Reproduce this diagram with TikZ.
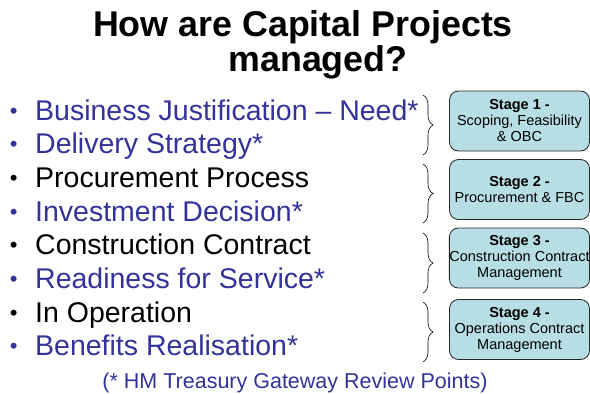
\documentclass[tikz,border=0pt]{standalone}
\usepackage{fontspec}
\setmainfont{Liberation Sans}
\usetikzlibrary{decorations.pathreplacing}
\definecolor{gwblue}{RGB}{51,51,153}
\definecolor{stagefill}{RGB}{183,222,228}
\newcommand{\blt}{\makebox[26.4pt][l]{\hspace{1pt}\raisebox{2pt}{\fontsize{22}{22}\selectfont•}}}
\begin{document}
\begin{tikzpicture}[x=1pt,y=-1pt,
  titletext/.style={font=\fontsize{35.8}{42}\selectfont\bfseries, inner sep=0, anchor=base},
  item/.style={font=\fontsize{28.5}{34}\selectfont, inner sep=0, anchor=base west},
  stagebox/.style={draw=black!85, line width=0.8pt, fill=stagefill, rounded corners=9pt,
    minimum width=140pt, minimum height=60pt, inner sep=0, align=center,
    font=\fontsize{14.5}{16}\selectfont},
  bracepath/.style={decorate, decoration={brace, amplitude=10pt, aspect=0.5}, line width=0.6pt},
  notetext/.style={font=\fontsize{21.5}{24}\selectfont, text=gwblue, anchor=base, inner sep=0}]
\useasboundingbox (0,0) rectangle (590,394);
\fill[white] (0,0) rectangle (590,394);

% title
\node[titletext] (t1) at (303,36.7) {How are Capital Projects};
\node[titletext] (t2) at (318,71.7) {managed?};

% bullet list
\node[item, text=gwblue] (i1) at (8.6,120.0) {\blt Business Justification – Need*};
\node[item, text=gwblue] (i2) at (8.6,153.7) {\blt Delivery Strategy*};
\node[item, text=black]  (i3) at (8.6,187.4) {\blt Procurement Process};
\node[item, text=gwblue] (i4) at (8.6,221.1) {\blt Investment Decision*};
\node[item, text=black]  (i5) at (8.6,254.8) {\blt Construction Contract};
\node[item, text=gwblue] (i6) at (8.6,288.5) {\blt Readiness for Service*};
\node[item, text=black]  (i7) at (8.6,322.2) {\blt In Operation};
\node[item, text=gwblue] (i8) at (8.6,355.9) {\blt Benefits Realisation*};

% braces
\coordinate (b1s) at (423,95);  \coordinate (b1e) at (423,155);
\coordinate (b2s) at (423,164); \coordinate (b2e) at (423,223);
\coordinate (b3s) at (423,233); \coordinate (b3e) at (423,293);
\coordinate (b4s) at (423,302); \coordinate (b4e) at (423,362);
\draw[bracepath] (b1s) -- (b1e);
\draw[bracepath] (b2s) -- (b2e);
\draw[bracepath] (b3s) -- (b3e);
\draw[bracepath] (b4s) -- (b4e);

% stage boxes
\node[stagebox] (s1) at (519.5,121) {\textbf{Stage 1 -}\\Scoping, Feasibility\\\& OBC};
\node[stagebox] (s2) at (519.5,189.5) {\textbf{Stage 2 -}\\Procurement \& FBC};
\node[stagebox] (s3) at (519.5,258) {\textbf{Stage 3 -}\\Construction Contract\\Management};
\node[stagebox] (s4) at (519.5,329.5) {\textbf{Stage 4 -}\\Operations Contract\\Management};

% footnote
\node[notetext] (note) at (295,388.5) {(* HM Treasury Gateway Review Points)};
\end{tikzpicture}
\end{document}
